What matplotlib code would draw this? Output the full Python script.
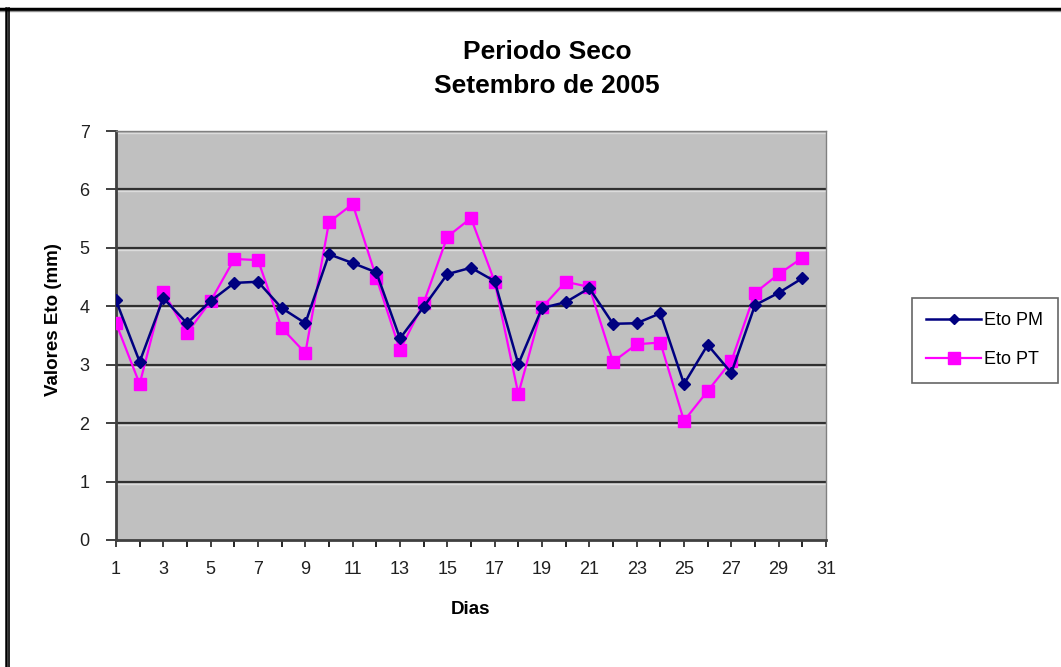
import matplotlib
matplotlib.use("Agg")
import matplotlib.pyplot as plt
from matplotlib.lines import Line2D

days = list(range(1, 31))
eto_pm = [4.10, 3.05, 4.14, 3.71, 4.09, 4.40, 4.42, 3.97, 3.71, 4.89,
          4.74, 4.58, 3.45, 3.99, 4.55, 4.66, 4.43, 3.01, 3.97, 4.07,
          4.31, 3.70, 3.71, 3.88, 2.67, 3.34, 2.86, 4.02, 4.23, 4.48]
eto_pt = [3.71, 2.67, 4.25, 3.54, 4.09, 4.81, 4.79, 3.63, 3.20, 5.44,
          5.75, 4.49, 3.25, 4.06, 5.19, 5.51, 4.42, 2.50, 3.98, 4.42,
          4.33, 3.05, 3.35, 3.38, 2.04, 2.55, 3.06, 4.23, 4.55, 4.83]
x_ticklabels = [str(v) for v in range(1, 32, 2)]
y_ticks = list(range(0, 8))

plt.rcParams['font.family'] = ['Liberation Sans', 'DejaVu Sans']

fig = plt.figure(figsize=(10.61, 6.67), dpi=100)
fig.patch.set_facecolor('white')

ax = fig.add_axes([116/1061, 1-540/667, (826-116)/1061, (540-131)/667])
ax.set_facecolor('#C0C0C0')
ax.set_xlim(1, 31)
ax.set_ylim(0, 7)

for yv in y_ticks[1:]:
    ax.axhline(yv, color='#303030', lw=1.6, zorder=1)
    ax.axhline(yv - 0.035, color='#DCDCDC', lw=1.0, zorder=1)

ax.plot(days, eto_pm, color='#000080', lw=1.8, marker='D', markersize=6,
        markerfacecolor='#000080', markeredgecolor='#000080', zorder=4, label='Eto PM')
ax.plot(days, eto_pt, color='#FF00FF', lw=1.6, marker='s', markersize=9,
        markerfacecolor='#FF00FF', markeredgecolor='#FF00FF', zorder=3, label='Eto PT')

ax.set_yticks(y_ticks)
ax.set_xticks(range(1, 32, 2))
ax.set_xticklabels(x_ticklabels)
ax.set_xticks(range(1, 32), minor=True)
ax.tick_params(axis='both', labelsize=13, colors='#202020', direction='out')
ax.tick_params(axis='x', which='both', length=5, width=1.2, pad=10)
ax.tick_params(axis='y', length=7, width=1.2, pad=12)

for s in ['left', 'bottom']:
    ax.spines[s].set_color('#404040')
    ax.spines[s].set_linewidth(2)
for s in ['top', 'right']:
    ax.spines[s].set_color('#808080')
    ax.spines[s].set_linewidth(1)

fig.text(547/1061, 1-52/667, 'Periodo Seco', ha='center', va='center',
         fontsize=19, fontweight='bold')
fig.text(547/1061, 1-86/667, 'Setembro de 2005', ha='center', va='center',
         fontsize=19, fontweight='bold')
fig.text(54/1061, 1-320/667, 'Valores Eto (mm)', rotation=90, ha='center',
         va='center', fontsize=13.5, fontweight='bold')
fig.text(470/1061, 1-610/667, 'Dias', ha='center', va='center',
         fontsize=13.5, fontweight='bold')

handles = [Line2D([], [], color='#000080', lw=1.8, marker='D', markersize=5),
           Line2D([], [], color='#FF00FF', lw=1.6, marker='s', markersize=8)]
leg = fig.legend(handles, ['Eto PM', 'Eto PT'], loc='upper left',
                 bbox_to_anchor=(912/1061, 1-298/667), fontsize=13,
                 frameon=True, fancybox=False, borderpad=0.8, labelspacing=1.2,
                 handlelength=3.0, handletextpad=0.2, borderaxespad=0)
leg.get_frame().set_edgecolor('#404040')
leg.get_frame().set_linewidth(1.2)

# outer border (top and left double lines)
fig.add_artist(Line2D([0, 1], [1-8.5/667]*2, transform=fig.transFigure,
                      color='black', lw=2.5))
fig.add_artist(Line2D([0, 1], [1-11/667]*2, transform=fig.transFigure,
                      color='#909090', lw=1))
fig.add_artist(Line2D([5.5/1061]*2, [0, 1-8/667], transform=fig.transFigure,
                      color='black', lw=1.8))
fig.add_artist(Line2D([9/1061]*2, [0, 1-8/667], transform=fig.transFigure,
                      color='black', lw=1.2))

fig.savefig('out.png', dpi=100, facecolor='white')
